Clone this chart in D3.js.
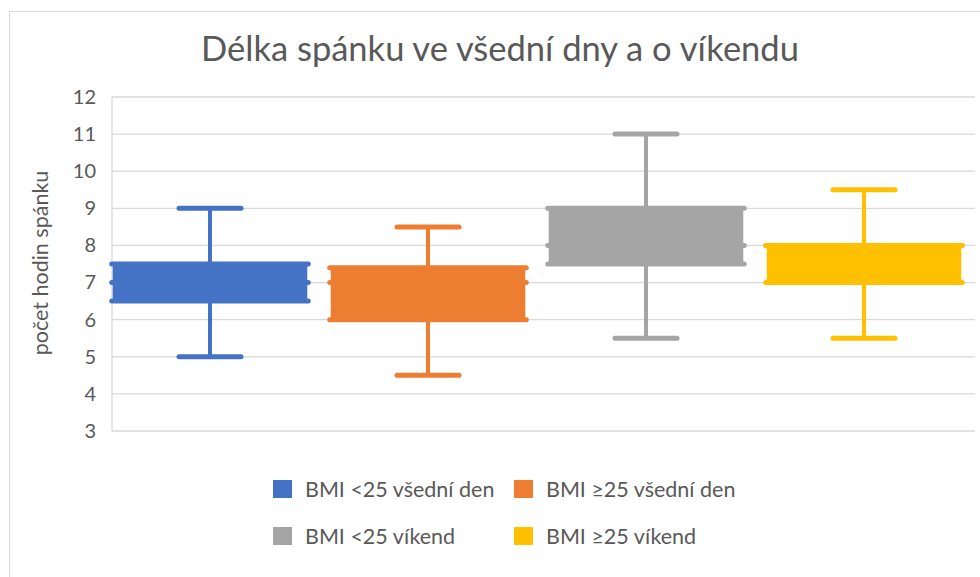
<!DOCTYPE html>
<html><head><meta charset="utf-8">
<script src="https://cdn.jsdelivr.net/npm/d3@7"></script>
<style>body{margin:0;background:#fff}svg{display:block}text{font-family:Lato,"Open Sans",sans-serif}</style>
</head><body>
<svg id="c" width="980" height="577"></svg>
<script>
const series = ["BMI <25 všední den","BMI ≥25 všední den","BMI <25 víkend","BMI ≥25 víkend"];
const colors = ["#4472C4","#ED7D31","#A5A5A5","#FFC000"];
const minV = [5, 4.5, 5.5, 5.5];
const q1V = [6.5, 6, 7.5, 7];
const medV = [7, 7, 8, 8];
const q3V = [7.5, 7.4, 9, 8];
const maxV = [9, 8.5, 11, 9.5];
const yTicks = [3,4,5,6,7,8,9,10,11,12];
const title = "Délka spánku ve všední dny a o víkendu";
const yLabel = "počet hodin spánku";

const svg = d3.select("#c");
// outer chart border
svg.append("rect").attr("x",9.5).attr("y",11.5).attr("width",1000).attr("height",600)
  .attr("fill","#fff").attr("stroke","#d9d9d9").attr("stroke-width",1);

const y = d3.scaleLinear().domain([3,12]).range([431,97]);
const x = d3.scaleBand().domain(series).range([101,973]).paddingInner(0.08).paddingOuter(0.04);
const plotL = 112, plotR = 975;

// gridlines
svg.append("g").selectAll("line").data(yTicks).join("line")
  .attr("x1",plotL).attr("x2",plotR).attr("y1",d=>y(d)).attr("y2",d=>y(d))
  .attr("stroke","#d9d9d9").attr("stroke-width",1.3);
svg.append("line").attr("x1",plotL).attr("x2",plotL).attr("y1",y(12)).attr("y2",y(3))
  .attr("stroke","#d9d9d9").attr("stroke-width",1.3);

// y axis labels
const yAxis = d3.axisLeft(y).tickValues(yTicks).tickSize(0).tickPadding(0);
const ga = svg.append("g").attr("transform","translate(96,0)").call(yAxis);
ga.select(".domain").remove();
ga.selectAll("text").attr("fill","#595959").style("font-size","20px").style("font-family","Lato");

// y label
svg.append("text").attr("transform","translate(48,263) rotate(-90)").attr("text-anchor","middle")
  .attr("fill","#595959").style("font-size","21.5px").text(yLabel);

// title
svg.append("text").attr("x",500).attr("y",61).attr("text-anchor","middle")
  .attr("fill","#595959").style("font-size","34.5px").text(title);

// boxes
const data = series.map((s,i)=>({s, c:colors[i], min:minV[i], q1:q1V[i], med:medV[i], q3:q3V[i], max:maxV[i]}));
const g = svg.append("g");
data.forEach(d=>{
  const x0 = x(d.s)+2, x1 = x(d.s)+x.bandwidth()-2, cx = x(d.s)+x.bandwidth()/2;
  const gg = g.append("g").attr("stroke",d.c).attr("stroke-linecap","round");
  gg.append("line").attr("x1",cx).attr("x2",cx).attr("y1",y(d.max)).attr("y2",y(d.min)).attr("stroke-width",4);
  [d.min,d.max].forEach(v=>gg.append("line").attr("x1",cx-31).attr("x2",cx+31).attr("y1",y(v)).attr("y2",y(v)).attr("stroke-width",5));
  gg.append("rect").attr("x",x0+1).attr("width",x1-x0-2).attr("y",y(d.q3)).attr("height",y(d.q1)-y(d.q3))
    .attr("fill",d.c).attr("stroke","none");
  [d.q1,d.med,d.q3].forEach(v=>gg.append("line").attr("x1",x0).attr("x2",x1).attr("y1",y(v)).attr("y2",y(v)).attr("stroke-width",5));
});

// legend
const legPos = [[273,489],[514,489],[273,536],[514,536]];
const lg = svg.append("g");
data.forEach((d,i)=>{
  const [lx,ly] = legPos[i];
  lg.append("rect").attr("x",lx).attr("y",ly-9).attr("width",19).attr("height",18).attr("fill",d.c);
  lg.append("text").attr("x",lx+32).attr("y",ly).attr("dy","0.35em").attr("fill","#595959")
    .style("font-size","21.5px").text(d.s);
});
</script>
</body></html>
